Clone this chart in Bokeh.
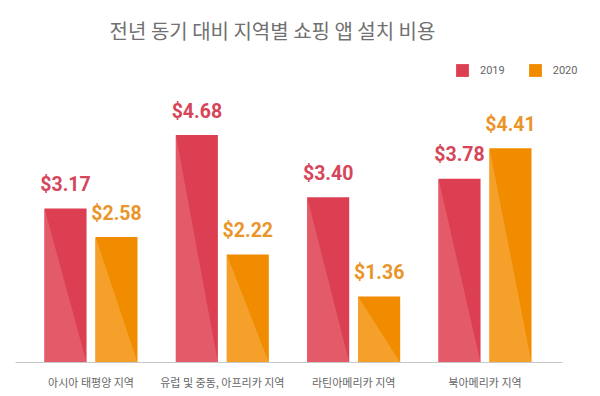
from bokeh.plotting import figure
from bokeh.models import ColumnDataSource, Range1d, FixedTicker, Label
from bokeh.transform import dodge
from bokeh.core.properties import value
from bokeh.embed import file_html
from bokeh.resources import INLINE

# ---- data ----
regions = ["아시아 태평양 지역", "유럽 및 중동, 아프리카 지역", "라틴아메리카 지역", "북아메리카 지역"]
cost_2019 = [3.17, 4.68, 3.40, 3.78]
cost_2020 = [2.58, 2.22, 1.36, 4.41]
series_names = ["2019", "2020"]
title_text = "전년 동기 대비 지역별 쇼핑 앱 설치 비용"

# ---- style ----
RED = "#DC3F51"
RED_LIGHT = "#E35B69"
ORANGE = "#F18C00"
ORANGE_LIGHT = "#F4A02B"
RED_TEXT = "#D5465A"
ORANGE_TEXT = "#E9952A"
BAR_W = 0.32
OFF = 0.194
X0 = -0.575

idx = list(range(len(regions)))
src = ColumnDataSource(dict(
    x=idx,
    v2019=cost_2019,
    v2020=cost_2020,
    t2019=["$%.2f" % v for v in cost_2019],
    t2020=["$%.2f" % v for v in cost_2020],
))

p = figure(width=600, height=396, output_backend="svg", toolbar_location=None,
           x_range=Range1d(X0, X0 + 4.424), y_range=Range1d(0, 7.449),
           min_border_left=15, min_border_right=4, min_border_top=0, min_border_bottom=34)
p.outline_line_color = None
p.xgrid.visible = False
p.ygrid.visible = False
p.yaxis.visible = False
p.background_fill_color = "white"

# bars
p.vbar(x=dodge("x", -OFF), top="v2019", width=BAR_W, source=src,
       fill_color=RED, line_color=None, legend_label=series_names[0])
p.vbar(x=dodge("x", OFF), top="v2020", width=BAR_W, source=src,
       fill_color=ORANGE, line_color=None, legend_label=series_names[1])

# lighter diagonal shading (lower-left triangle of each bar)
def tri(vals, off):
    xs, ys = [], []
    for i, v in zip(idx, vals):
        x0 = i + off - BAR_W / 2
        x1 = i + off + BAR_W / 2
        xs.append([x0, x0, x1])
        ys.append([v, 0, 0])
    return xs, ys

xs, ys = tri(cost_2019, -OFF)
p.patches(xs, ys, fill_color=RED_LIGHT, line_color=None)
xs, ys = tri(cost_2020, OFF)
p.patches(xs, ys, fill_color=ORANGE_LIGHT, line_color=None)

# value labels
p.text(x=dodge("x", -OFF), y="v2019", text="t2019", source=src,
       text_align="center", text_baseline="alphabetic", y_offset=-24,
       text_font=value("Roboto"), text_font_style="bold", text_font_size="19.5px",
       text_color=RED_TEXT)
p.text(x=dodge("x", OFF), y="v2020", text="t2020", source=src,
       text_align="center", text_baseline="alphabetic", y_offset=-24,
       text_font=value("Roboto"), text_font_style="bold", text_font_size="19.5px",
       text_color=ORANGE_TEXT)

# x axis
ax = p.xaxis[0]
ax.ticker = FixedTicker(ticks=idx)
ax.bounds = (X0, len(regions) - 1 + 0.59)
ax.major_label_overrides = {i: r for i, r in zip(idx, regions)}
ax.major_tick_line_color = None
ax.minor_tick_line_color = None
ax.axis_line_color = "#c8c8c8"
ax.major_label_text_font = "Noto Sans CJK KR"
ax.major_label_text_font_size = "11px"
ax.major_label_text_color = "#666666"
ax.major_label_standoff = 5

# title
p.add_layout(Label(x=257, y=332, x_units="screen", y_units="screen", text=title_text,
                   text_align="center", text_baseline="middle",
                   text_font="Noto Sans CJK KR", text_font_size="20px",
                   text_color="#707070"))

# legend
lg = p.legend[0]
lg.orientation = "horizontal"
lg.location = (439, 284)
lg.glyph_width = 16
lg.glyph_height = 16
lg.label_standoff = 10
lg.spacing = 22
lg.padding = 0
lg.margin = 0
lg.border_line_alpha = 0
lg.background_fill_alpha = 0
lg.label_text_font = "Roboto"
lg.label_text_font_size = "11px"
lg.label_text_color = "#666666"

open("out.html", "w").write(file_html(p, INLINE))
